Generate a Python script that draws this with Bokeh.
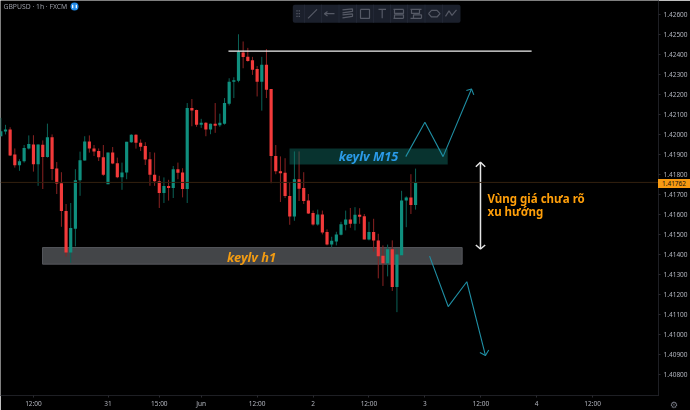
from bokeh.plotting import figure
from bokeh.models import ColumnDataSource, FixedTicker, LinearAxis, Range1d, Span, Div, NumeralTickFormatter
from bokeh.core.properties import value
from bokeh.embed import file_html
from bokeh.resources import INLINE

opens = [1.41993,1.42017,1.42027,1.41901,1.41848,1.41868,1.41932,1.41952,1.41853,1.41951,
         1.41889,1.41988,1.41831,1.41758,1.41619,1.41411,1.41530,1.41773,1.41871,1.41967,
         1.41932,1.41919,1.41888,1.41753,1.41911,1.41858,1.41788,1.41812,1.41963,1.42000,
         1.41960,1.41944,1.41878,1.41800,1.41768,1.41709,1.41744,1.41734,1.41828,1.41812,
         1.41729,1.42134,1.42124,1.42051,1.42060,1.42027,1.42055,1.42048,1.42056,1.42156,
         1.42266,1.42270,1.42412,1.42390,1.42373,1.42329,1.42266,1.42351,1.42229,1.41894,
         1.41818,1.41810,1.41694,1.41591,1.41778,1.41734,1.41671,1.41609,1.41551,1.41601,
         1.41514,1.41451,1.41467,1.41500,1.41550,1.41576,1.41555,1.41600,1.41593,1.41477,
         1.41514,1.41472,1.41395,1.41358,1.41427,1.41239,1.41397,1.41671,1.41687,1.41649]
closes = [1.42018,1.42027,1.41897,1.41848,1.41868,1.41934,1.41954,1.41853,1.41952,1.41889,
          1.41988,1.41829,1.41757,1.41619,1.41411,1.41534,1.41773,1.41873,1.41967,1.41932,
          1.41917,1.41888,1.41800,1.41911,1.41856,1.41788,1.41812,1.41965,1.42000,1.41960,
          1.41941,1.41876,1.41800,1.41768,1.41709,1.41744,1.41734,1.41828,1.41810,1.41729,
          1.42134,1.42122,1.42051,1.42060,1.42027,1.42055,1.42046,1.42060,1.42159,1.42266,
          1.42273,1.42415,1.42389,1.42369,1.42326,1.42266,1.42351,1.42225,1.41894,1.41818,
          1.41808,1.41694,1.41591,1.41778,1.41730,1.41669,1.41606,1.41551,1.41601,1.41512,
          1.41451,1.41470,1.41502,1.41553,1.41576,1.41555,1.41600,1.41590,1.41477,1.41514,
          1.41472,1.41393,1.41358,1.41427,1.41239,1.41401,1.41671,1.41687,1.41649,1.41762]
highs = [1.42085,1.42050,1.42038,1.41932,1.41878,1.41949,1.41997,1.41998,1.41952,1.41972,
         1.42056,1.42002,1.41864,1.41813,1.41654,1.41659,1.41828,1.41916,1.41993,1.41997,
         1.41949,1.41932,1.41949,1.41911,1.41939,1.41886,1.41861,1.41965,1.42003,1.42003,
         1.41977,1.41963,1.41914,1.41911,1.41795,1.41787,1.41775,1.41844,1.41861,1.41833,
         1.42159,1.42179,1.42126,1.42080,1.42063,1.42056,1.42159,1.42106,1.42184,1.42283,
         1.42288,1.42503,1.42467,1.42435,1.42390,1.42344,1.42390,1.42429,1.42229,1.41949,
         1.41892,1.41883,1.41763,1.41917,1.41917,1.41813,1.41704,1.41621,1.41626,1.41621,
         1.41527,1.41490,1.41515,1.41565,1.41621,1.41634,1.41638,1.41633,1.41604,1.41565,
         1.41580,1.41505,1.41447,1.41451,1.41472,1.41431,1.41720,1.41692,1.41803,1.41831]
lows = [1.41992,1.42002,1.41894,1.41836,1.41820,1.41861,1.41927,1.41816,1.41745,1.41729,
        1.41886,1.41773,1.41704,1.41540,1.41391,1.41360,1.41442,1.41695,1.41871,1.41911,
        1.41894,1.41869,1.41795,1.41753,1.41853,1.41783,1.41725,1.41778,1.41960,1.41931,
        1.41919,1.41849,1.41745,1.41745,1.41634,1.41659,1.41671,1.41684,1.41778,1.41687,
        1.41659,1.42043,1.42040,1.42035,1.41993,1.42003,1.42010,1.42040,1.42051,1.42147,
        1.42184,1.42263,1.42333,1.42366,1.42300,1.42192,1.42121,1.42184,1.41758,1.41803,
        1.41664,1.41684,1.41550,1.41570,1.41669,1.41654,1.41604,1.41546,1.41546,1.41502,
        1.41447,1.41436,1.41447,1.41497,1.41522,1.41535,1.41522,1.41555,1.41477,1.41472,
        1.41416,1.41282,1.41244,1.41292,1.41219,1.41113,1.41396,1.41538,1.41604,1.41626]

price_ticks = [1.408,1.409,1.410,1.411,1.412,1.413,1.414,1.415,1.416,1.417,
               1.418,1.419,1.420,1.421,1.422,1.423,1.424,1.425,1.426]
time_ticks = [7,23,34,43,55,67,79,91,103,115,127]
time_labels = ["12:00","31","15:00","Jun","12:00","2","12:00","3","12:00","4","12:00"]
last_price = 1.41762

resistance_x = [48.85,113.9]
resistance_y = [1.42419,1.42419]
zone_m15 = dict(left=61.95,right=95.9,top=1.41932,bottom=1.41851)
zone_h1 = dict(left=8.95,right=99.0,top=1.41436,bottom=1.41353)
up_x = [86.9,91.0,94.9,101.0]
up_y = [1.41891,1.42063,1.41891,1.42229]
up_head_x = [99.9,101.0,101.5]
up_head_y = [1.42222,1.42229,1.42200]
down_x = [92.0,96.0,100.0,104.0]
down_y = [1.41393,1.41141,1.41265,1.40896]
down_head_x = [102.8,104.0,104.7]
down_head_y = [1.40911,1.40896,1.40924]
range_x = [102.93,102.93]
range_y = [1.41863,1.41429]
range_top_x = [101.93,102.93,103.94]
range_top_y = [1.41840,1.41863,1.41840]
range_bot_x = [101.93,102.93,103.94]
range_bot_y = [1.41449,1.41429,1.41449]

RED, GREEN = "#f23a3a", "#0f8f7e"
WICK_RED, WICK_GREEN = "#8a2222", "#0b6257"

W, H = 690, 410
FW, FH = 658, 398
x0, x1 = -0.07, 141.13
y1, y0 = 1.42672, 1.40696

p = figure(width=W, height=H, output_backend="svg", toolbar_location=None,
           x_range=Range1d(x0, x1), y_range=Range1d(y0, y1),
           x_axis_location=None, y_axis_location=None,
           min_border_left=0, min_border_top=0, min_border_right=W-FW, min_border_bottom=H-FH,
           background_fill_color="#000000", border_fill_color="#000000",
           styles={"position": "fixed", "left": "0px", "top": "0px"})
p.grid.visible = False
p.outline_line_color = None

AXF = "Noto Sans"
ya = LinearAxis(ticker=FixedTicker(ticks=price_ticks), formatter=NumeralTickFormatter(format="0.00000"))
xa = LinearAxis(ticker=FixedTicker(ticks=time_ticks),
                major_label_overrides={t: l for t, l in zip(time_ticks, time_labels)})
for a, st in ((ya, 3), (xa, 1)):
    a.axis_line_color = "#1e1f24"
    a.major_tick_line_color = "#2a2b30"
    a.minor_tick_line_color = None
    a.major_tick_out = 2
    a.major_tick_in = 0
    a.major_label_standoff = st
    a.major_label_text_color = "#b2b5be"
    a.major_label_text_font = AXF
    a.major_label_text_font_size = "6.5px"
p.add_layout(ya, "right")
p.add_layout(xa, "below")

idx = list(range(len(opens)))
src = ColumnDataSource(dict(
    x=idx, top=[max(o, c) for o, c in zip(opens, closes)], bottom=[min(o, c) for o, c in zip(opens, closes)],
    high=highs, low=lows,
    body=[GREEN if c >= o else RED for o, c in zip(opens, closes)],
    wick=[WICK_GREEN if c >= o else WICK_RED for o, c in zip(opens, closes)]))

p.add_layout(Span(location=last_price, dimension="width", line_color="#33200f", line_width=1))
p.quad(line_color="#55575c", line_width=1, fill_color="#434548", **zone_h1)
p.segment("x", "high", "x", "low", source=src, line_color="wick", line_width=1)
p.vbar(x="x", top="top", bottom="bottom", width=0.68, source=src, fill_color="body", line_color=None)
p.quad(line_color=None, fill_color="#147a70", fill_alpha=0.42, **zone_m15)

p.line(resistance_x, resistance_y, line_color="#f2f2f2", line_width=1.3)
TEAL = "#1f8ea3"
for xs, ys in ((up_x, up_y), (up_head_x, up_head_y), (down_x, down_y), (down_head_x, down_head_y)):
    p.line(xs, ys, line_color=TEAL, line_width=1.1)
for xs, ys in ((range_x, range_y), (range_top_x, range_top_y), (range_bot_x, range_bot_y)):
    p.line(xs, ys, line_color="#e4e4e4", line_width=1.5)

def X(px):
    return x0 + px * (x1 - x0) / FW
def Y(py):
    return y1 - py * (y1 - y0) / FH

def txt(px, py, s, color, size, style="normal", align="left", font="Noto Sans"):
    p.text([X(px)], [Y(py)], text=[s], text_color=color, text_font=value(font),
           text_font_size=size, text_font_style=style, text_align=align, text_baseline="middle")

txt(368, 157, "keylv M15", "#2b9be8", "12.8px", "bold italic", "center")
txt(251, 258, "keylv h1", "#f39c12", "12.8px", "bold italic", "center")
txt(487, 200, "Vùng giá chưa rõ", "#ff9f0a", "11.5px", "bold")
txt(487, 213, "xu hướng", "#ff9f0a", "11.5px", "bold")
txt(3, 6.3, "GBPUSD · 1h · FXCM", "#9a9da6", "6.8px")

p.circle([X(74)], [Y(6)], radius=4 * (x1 - x0) / FW, fill_color="#1e88e5", line_color=None)
p.segment([X(72.2), X(75.8)], [Y(4.3), Y(4.3)], [X(72.2), X(75.8)], [Y(7.7), Y(7.7)], line_color="white", line_width=1.2)

# drawing toolbar (page chrome)
CH = "#555965"
p.quad(left=[X(292.3)], right=[X(460)], top=[Y(4.3)], bottom=[Y(22.3)], fill_color="#1b202c", line_color=None, border_radius=2)
seps = [304, 321, 338.5, 356, 373, 390, 407, 424.5, 442]
p.segment([X(s) for s in seps], [Y(4.3)] * len(seps), [X(s) for s in seps], [Y(22.3)] * len(seps), line_color="#232836", line_width=1)
grid_x = [296.5, 298.8] * 3
grid_y = [10.5, 10.5, 13.3, 13.3, 16, 16]
p.scatter([X(a) for a in grid_x], [Y(b) for b in grid_y], size=1.3, marker="square", fill_color=CH, line_color=None)
icons = [
    [(307.5, 18), (316.5, 9)],
    [(324, 13.3), (334, 13.3)], [(327, 11), (324, 13.3), (327, 15.6)],
    [(342, 9.5), (352, 8.5), (352, 11), (342, 12.5)], [(342, 14.5), (352, 13.5), (352, 16), (342, 17.5)],
    [(360, 9), (369, 9), (369, 18), (360, 18), (360, 9)],
    [(378, 9), (385.5, 9)], [(381.7, 9), (381.7, 18)],
    [(393, 9), (403, 9)], [(394, 9), (394, 13), (403, 13), (403, 9)], [(393, 18), (403, 18)], [(394, 18), (394, 14.5), (403, 14.5), (403, 18)],
    [(410, 9), (421, 9)], [(411, 9), (411, 13), (419, 13), (419, 9)], [(410, 18), (421, 18)], [(413, 18), (413, 14.5), (421, 14.5), (421, 18)],
    [(428, 13.3), (431, 10), (436.5, 10), (439.5, 13.3), (436.5, 16.6), (431, 16.6), (428, 13.3)],
    [(445, 16), (448.5, 10.5), (451.5, 15), (456, 9.5)],
]
p.multi_line([[X(a) for a, _ in ic] for ic in icons], [[Y(b) for _, b in ic] for ic in icons], line_color=CH, line_width=1.2)

tag_top = round((y1 - last_price) / (y1 - y0) * FH - 4.5)
tag = Div(text=f"{last_price:.5f}", width=W - FW, height=9, margin=(0, 0, 0, 0),
          styles={"position": "fixed", "left": f"{FW}px", "top": f"{tag_top}px", "background-color": "#f79a12",
                  "color": "#111111", "font-family": AXF, "font-size": "6.5px", "line-height": "9px",
                  "text-align": "center"})
gear = Div(text="⚙", width=12, height=10, margin=(0, 0, 0, 0),
           styles={"position": "fixed", "left": "668px", "top": "400px", "color": "#787b86",
                   "font-family": "DejaVu Sans", "font-size": "9px", "line-height": "10px", "text-align": "center"})

out = file_html([p, tag, gear], INLINE)
open("out.html", "w").write(out)
